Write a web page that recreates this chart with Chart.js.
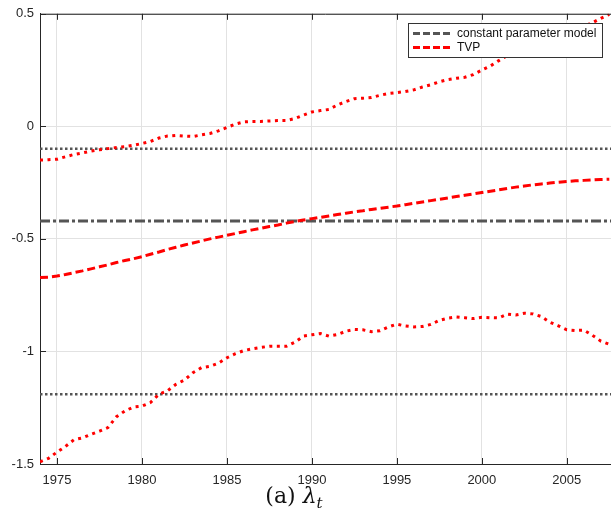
<!DOCTYPE html>
<html>
<head>
<meta charset="utf-8">
<script src="https://cdn.jsdelivr.net/npm/chart.js@4.4.1/dist/chart.umd.min.js"></script>
<style>
    html, body { margin: 0; padding: 0; background: #fff; }
    #wrap { position: relative; width: 611px; height: 518px; }
    #caption {
        position: absolute; left: 194px; width: 200px; top: 483px;
        text-align: center; font-family: 'DejaVu Serif', serif; font-size: 22px; color: #111;
    }
    #caption sub { font-size: 15px; font-style: italic; }
</style>
</head>
<body>
<div id="wrap">
    <canvas id="lambdaChart" width="611" height="518"></canvas>
    <div id="caption">(a) <i>λ</i><sub>t</sub></div>
</div>
<script>
// half-yearly sample dates
const years = [];
for (let y = 1974; y <= 2007.5; y += 0.5) years.push(y);

// time-varying estimate of lambda and its band
const tvpMean = [
    -0.672, -0.670, -0.665, -0.658, -0.650, -0.642, -0.633, -0.624, -0.615, -0.605,
    -0.596, -0.588, -0.579, -0.568, -0.558, -0.547, -0.537, -0.527, -0.518, -0.509,
    -0.500, -0.492, -0.484, -0.476, -0.468, -0.460, -0.453, -0.445, -0.438, -0.430,
    -0.423, -0.416, -0.410, -0.404, -0.398, -0.392, -0.386, -0.380, -0.375, -0.369,
    -0.364, -0.359, -0.354, -0.348, -0.342, -0.336, -0.330, -0.324, -0.318, -0.312,
    -0.306, -0.300, -0.294, -0.288, -0.282, -0.276, -0.270, -0.265, -0.260, -0.256,
    -0.252, -0.248, -0.245, -0.242, -0.240, -0.238, -0.236, -0.235
];
const tvpUpper = [
    -0.150, -0.148, -0.146, -0.135, -0.125, -0.118, -0.110, -0.104, -0.099, -0.094,
    -0.090, -0.084, -0.076, -0.067, -0.052, -0.043, -0.040, -0.043, -0.045, -0.038,
    -0.032, -0.020, -0.005, 0.010, 0.020, 0.022, 0.022, 0.024, 0.026, 0.026,
    0.035, 0.050, 0.064, 0.070, 0.075, 0.095, 0.110, 0.123, 0.125, 0.128,
    0.138, 0.146, 0.150, 0.155, 0.162, 0.175, 0.185, 0.198, 0.208, 0.214,
    0.218, 0.230, 0.250, 0.268, 0.292, 0.315, 0.335, 0.352, 0.368, 0.382,
    0.395, 0.408, 0.420, 0.432, 0.445, 0.460, 0.480, 0.497
];
const tvpLower = [
    -1.490, -1.475, -1.447, -1.422, -1.392, -1.384, -1.368, -1.354, -1.338, -1.290,
    -1.264, -1.247, -1.243, -1.227, -1.190, -1.175, -1.146, -1.127, -1.094, -1.072,
    -1.066, -1.052, -1.028, -1.010, -0.996, -0.988, -0.982, -0.977, -0.977, -0.977,
    -0.959, -0.932, -0.926, -0.920, -0.932, -0.925, -0.910, -0.902, -0.904, -0.912,
    -0.908, -0.891, -0.879, -0.887, -0.891, -0.889, -0.880, -0.862, -0.852, -0.847,
    -0.850, -0.854, -0.848, -0.850, -0.851, -0.834, -0.838, -0.830, -0.833, -0.845,
    -0.870, -0.886, -0.904, -0.907, -0.905, -0.928, -0.954, -0.968
];

// constant parameter estimate and its band
const constValue = [-0.42];
const constBand = [-0.10, -1.19];

const xTicks = [1975, 1980, 1985, 1990, 1995, 2000, 2005];
const yTicks = [-1.5, -1, -0.5, 0, 0.5];
const xRange = [1974, 2007.6];

const RED = '#ff0000';
const GREY = '#555555';
const AXIS = '#262626';

const series = values => values.map((v, i) => ({ x: years[i], y: v }));
const flat = v => xRange.map(x => ({ x: x, y: v }));

// inward tick marks and the top border line
const innerTicks = {
    id: 'innerTicks',
    afterDraw(chart) {
        const { ctx, chartArea: a, scales } = chart;
        ctx.save();
        ctx.strokeStyle = AXIS;
        ctx.lineWidth = 1;
        ctx.beginPath();
        ctx.moveTo(a.left, a.top + 0.5);
        ctx.lineTo(a.right, a.top + 0.5);
        xTicks.forEach(v => {
            const px = Math.round(scales.x.getPixelForValue(v)) + 0.5;
            ctx.moveTo(px, a.bottom);
            ctx.lineTo(px, a.bottom - 6);
            ctx.moveTo(px, a.top);
            ctx.lineTo(px, a.top + 6);
        });
        yTicks.forEach(v => {
            const py = Math.round(scales.y.getPixelForValue(v)) + 0.5;
            ctx.moveTo(a.left, py);
            ctx.lineTo(a.left + 6, py);
        });
        ctx.stroke();
        ctx.restore();
    }
};

// boxed legend inside the plot, drawn over the lines
const boxLegend = {
    id: 'boxLegend',
    afterDraw(chart) {
        const ctx = chart.ctx;
        const items = chart.data.datasets
            .filter(d => d.legendRank !== undefined)
            .sort((a, b) => a.legendRank - b.legendRank);
        const x = 408, y = 23, w = 194, h = 34;
        ctx.save();
        ctx.fillStyle = '#fff';
        ctx.fillRect(x, y, w, h);
        ctx.strokeStyle = '#333';
        ctx.lineWidth = 1;
        ctx.strokeRect(x + 0.5, y + 0.5, w, h);
        ctx.font = '12px "Liberation Sans", Arial, sans-serif';
        ctx.textBaseline = 'middle';
        items.forEach((d, i) => {
            const ly = y + 10.5 + i * 14;
            ctx.strokeStyle = d.borderColor;
            ctx.lineWidth = 3;
            ctx.setLineDash([7, 3]);
            ctx.beginPath();
            ctx.moveTo(x + 5, ly);
            ctx.lineTo(x + 45, ly);
            ctx.stroke();
            ctx.setLineDash([]);
            ctx.fillStyle = '#111';
            ctx.fillText(d.label, x + 49, ly + 0.5);
        });
        ctx.restore();
    }
};

new Chart(document.getElementById('lambdaChart'), {
    type: 'line',
    data: {
        datasets: [
            {
                label: 'TVP', legendRank: 1, order: 0,
                data: series(tvpMean),
                borderColor: RED, borderWidth: 3, borderDash: [8, 4]
            },
            {
                label: 'TVP upper', order: 1,
                data: series(tvpUpper),
                borderColor: RED, borderWidth: 3, borderDash: [3, 4.5]
            },
            {
                label: 'TVP lower', order: 2,
                data: series(tvpLower),
                borderColor: RED, borderWidth: 3, borderDash: [3, 4.5]
            },
            {
                label: 'constant parameter model', legendRank: 0, order: 3,
                data: flat(constValue[0]),
                borderColor: GREY, borderWidth: 3, borderDash: [10, 3, 3, 3]
            },
            {
                label: 'constant upper', order: 4,
                data: flat(constBand[0]),
                borderColor: GREY, borderWidth: 2.5, borderDash: [2.5, 2.5]
            },
            {
                label: 'constant lower', order: 5,
                data: flat(constBand[1]),
                borderColor: GREY, borderWidth: 2.5, borderDash: [2.5, 2.5]
            }
        ]
    },
    options: {
        responsive: false,
        animation: false,
        layout: { padding: { top: 12, right: 0, left: 0, bottom: 0 } },
        elements: { point: { radius: 0 }, line: { tension: 0, borderCapStyle: 'butt', fill: false } },
        plugins: { legend: { display: false }, tooltip: { enabled: false } },
        scales: {
            x: {
                type: 'linear',
                min: xRange[0],
                max: xRange[1],
                afterBuildTicks: s => { s.ticks = xTicks.map(v => ({ value: v })); },
                afterFit: s => { s.height = 54; },
                grid: { color: '#e2e2e2', drawTicks: false },
                border: { color: AXIS, width: 1 },
                ticks: {
                    padding: 9, color: AXIS, maxRotation: 0,
                    font: { family: '"Liberation Sans", Arial, sans-serif', size: 13 },
                    callback: v => String(v)
                }
            },
            y: {
                min: -1.5,
                max: 0.5,
                afterBuildTicks: s => { s.ticks = yTicks.map(v => ({ value: v })); },
                afterFit: s => { s.width = 40; },
                grid: { color: '#e2e2e2', drawTicks: false },
                border: { color: AXIS, width: 1 },
                ticks: {
                    padding: 6, color: AXIS,
                    font: { family: '"Liberation Sans", Arial, sans-serif', size: 13 },
                    callback: v => String(v)
                }
            }
        }
    },
    plugins: [innerTicks, boxLegend]
});
</script>
</body>
</html>
